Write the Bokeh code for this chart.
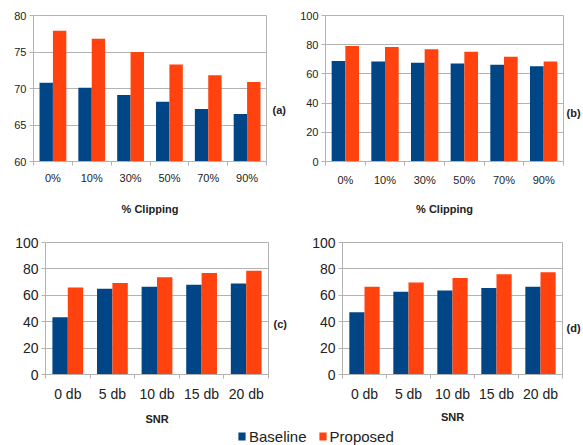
from bokeh.plotting import figure
from bokeh.models import (FactorRange, Range1d, LinearAxis, CategoricalAxis, FixedTicker,
                          ColumnDataSource, Legend, LegendItem, CustomJSTickFormatter)
from bokeh.transform import dodge
from bokeh.layouts import column, row
from bokeh.embed import file_html
from bokeh.resources import INLINE

# ---------------- data ----------------
clip_cats = ["0%", "10%", "30%", "50%", "70%", "90%"]
a_baseline = [70.8, 70.1, 69.1, 68.2, 67.2, 66.5]
a_proposed = [77.9, 76.8, 75.0, 73.3, 71.8, 70.9]
b_baseline = [68.8, 68.5, 67.6, 67.2, 66.3, 65.2]
b_proposed = [79.1, 78.4, 76.9, 75.1, 71.7, 68.5]

snr_cats = ["0 db", "5 db", "10 db", "15 db", "20 db"]
c_baseline = [43.3, 65.0, 66.4, 67.9, 69.0]
c_proposed = [66.0, 69.3, 73.6, 76.9, 78.6]
d_baseline = [47.1, 62.7, 63.6, 65.5, 66.4]
d_proposed = [66.4, 69.7, 73.2, 76.0, 77.4]

a_yticks = [60, 65, 70, 75, 80]
full_yticks = [0, 20, 40, 60, 80, 100]
series_names = ["Baseline", "Proposed"]
panel_tags = ["(a)", "(b)", "(c)", "(d)"]
x_titles = ["% Clipping", "SNR"]

# ---------------- style ----------------
BLUE = "#004586"
ORANGE = "#ff420e"
GRID = "#b3b3b3"
TXT = "#222222"
FONT = "Liberation Sans"


def panel(cats, base, prop, yticks, xtitle, tag, tag_frac, width, height,
          bl, br, bt, bb, fs, cat_standoff, title_standoff, tag_off):
    n = len(cats)
    p = figure(width=width, height=height, x_range=FactorRange(*cats),
               y_range=Range1d(yticks[0], yticks[-1]),
               output_backend="svg", toolbar_location=None,
               x_axis_location=None, y_axis_location="left",
               min_border_left=bl, min_border_right=br,
               min_border_top=bt, min_border_bottom=bb)
    p.background_fill_color = "white"
    p.border_fill_color = "white"
    p.outline_line_color = GRID
    p.xgrid.visible = False
    ticker = FixedTicker(ticks=yticks)
    p.yaxis.ticker = ticker
    p.ygrid.ticker = ticker
    p.ygrid.grid_line_color = GRID
    yax = p.yaxis[0]
    yax.axis_line_color = GRID
    yax.major_tick_line_color = GRID
    yax.major_tick_in = 0
    yax.major_tick_out = 4
    yax.minor_tick_line_color = None
    yax.major_label_text_font = FONT
    yax.major_label_text_font_size = f"{fs}px"
    yax.major_label_text_color = TXT
    yax.major_label_standoff = 3

    # boundary tick marks between categories (synthetic coordinates 0..n)
    tax = LinearAxis(ticker=FixedTicker(ticks=list(range(n + 1))),
                     formatter=CustomJSTickFormatter(code="return ''"))
    tax.axis_line_color = GRID
    tax.major_tick_line_color = GRID
    tax.major_tick_in = 0
    tax.major_tick_out = 4
    tax.minor_tick_line_color = None
    tax.major_label_text_font_size = "0px"
    tax.major_label_standoff = 0
    p.add_layout(tax, "below")

    cax = CategoricalAxis()
    cax.axis_line_color = None
    cax.major_tick_line_color = None
    cax.major_tick_in = 0
    cax.major_tick_out = 0
    cax.major_label_text_font = FONT
    cax.major_label_text_font_size = f"{fs}px"
    cax.major_label_text_color = TXT
    cax.major_label_standoff = cat_standoff
    cax.axis_label = xtitle
    cax.axis_label_text_font = FONT
    cax.axis_label_text_font_size = "11px"
    cax.axis_label_text_font_style = "bold"
    cax.axis_label_text_color = TXT
    cax.axis_label_standoff = title_standoff
    p.add_layout(cax, "below")

    # panel tag on the right side
    y0, y1 = yticks[0], yticks[-1]
    rax = LinearAxis(ticker=FixedTicker(ticks=[y0 + tag_frac * (y1 - y0)]),
                     formatter=CustomJSTickFormatter(args=dict(t=tag), code="return t"))
    rax.axis_line_color = None
    rax.major_tick_line_color = None
    rax.minor_tick_line_color = None
    rax.major_tick_in = 0
    rax.major_tick_out = 0
    rax.major_label_standoff = tag_off
    rax.major_label_text_font = FONT
    rax.major_label_text_font_size = "11px"
    rax.major_label_text_font_style = "bold"
    rax.major_label_text_color = TXT
    p.add_layout(rax, "right")

    src = ColumnDataSource(dict(cat=cats, base=base, prop=prop))
    bw = 0.345
    p.vbar(x=dodge("cat", -bw / 2, range=p.x_range), top="base", width=bw,
           source=src, fill_color=BLUE, line_color=None)
    p.vbar(x=dodge("cat", bw / 2, range=p.x_range), top="prop", width=bw,
           source=src, fill_color=ORANGE, line_color=None)
    return p


fa = panel(clip_cats, a_baseline, a_proposed, a_yticks, x_titles[0], panel_tags[0], 0.356,
           290, 225, 33, 24, 15, 64, 11, 6, 16, 6)
fb = panel(clip_cats, b_baseline, b_proposed, full_yticks, x_titles[0], panel_tags[1], 0.33,
           293, 225, 35, 18, 15, 61, 11, 8, 14, 3)
fc = panel(snr_cats, c_baseline, c_proposed, full_yticks, x_titles[1], panel_tags[2], 0.38,
           290, 202, 45, 22, 16, 46, 14, 7, 8, 5)
fd = panel(snr_cats, d_baseline, d_proposed, full_yticks, x_titles[1], panel_tags[3], 0.352,
           293, 202, 52, 18, 17, 43, 14, 7, 6, 4)

# legend strip
lf = figure(width=583, height=18, x_range=Range1d(0, 1), y_range=Range1d(0, 1),
            output_backend="svg", toolbar_location=None,
            x_axis_location=None, y_axis_location=None, min_border=0)
lf.outline_line_color = None
lf.xgrid.visible = False
lf.ygrid.visible = False
proxy = ColumnDataSource(dict(x=[0.5], top=[0.0]))
r1 = lf.vbar(x="x", top="top", width=0, source=proxy, fill_color=BLUE, line_color=None)
r2 = lf.vbar(x="x", top="top", width=0, source=proxy, fill_color=ORANGE, line_color=None)
leg = Legend(items=[LegendItem(label=series_names[0], renderers=[r1]),
                    LegendItem(label=series_names[1], renderers=[r2])],
             orientation="horizontal", location=(237, 0))
leg.glyph_width = 9
leg.glyph_height = 10
leg.label_standoff = 3
leg.spacing = 11
leg.padding = 0
leg.margin = 0
leg.label_height = 18
leg.border_line_color = None
leg.background_fill_alpha = 0
leg.label_text_font = FONT
leg.label_text_font_size = "15px"
leg.label_text_color = TXT
lf.add_layout(leg, "center")

layout = column(row(fa, fb), row(fc, fd), lf)
open("out.html", "w").write(file_html(layout, INLINE))
